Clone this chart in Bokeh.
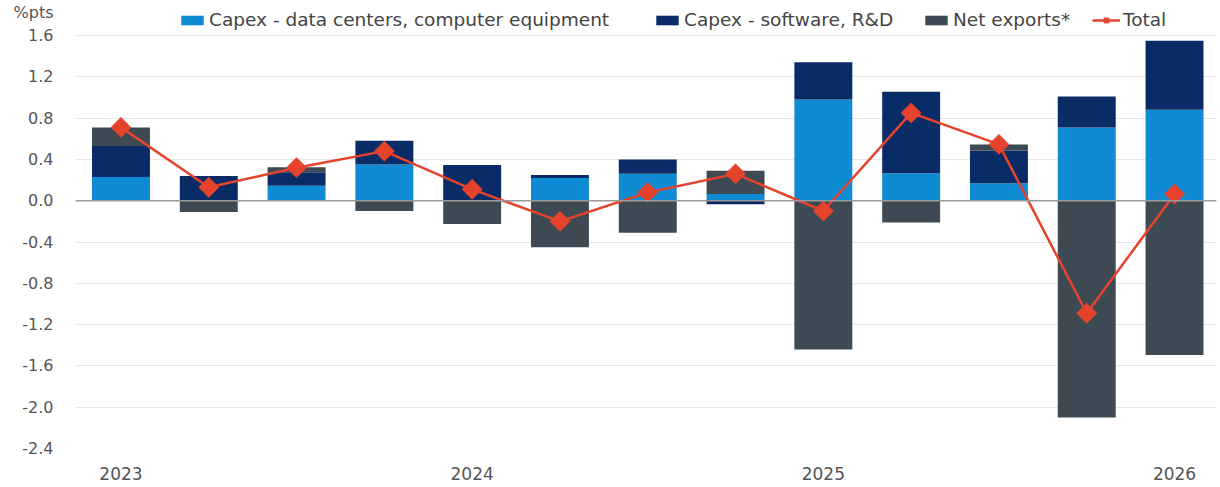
import numpy as np
from bokeh.plotting import figure
from bokeh.models import (ColumnDataSource, FixedTicker, PrintfTickFormatter, Span,
                          Legend, LegendItem)
from bokeh.embed import file_html
from bokeh.resources import INLINE

# ---------------- data ----------------
quarters = ["2023 Q1", "2023 Q2", "2023 Q3", "2023 Q4",
            "2024 Q1", "2024 Q2", "2024 Q3", "2024 Q4",
            "2025 Q1", "2025 Q2", "2025 Q3", "2025 Q4",
            "2026 Q1"]
capex_dc = [0.23, 0.00, 0.145, 0.35, 0.00, 0.22, 0.26, 0.065, 0.98, 0.265, 0.17, 0.71, 0.88]
capex_sw = [0.30, 0.24, 0.13, 0.23, 0.345, 0.03, 0.14, -0.035, 0.36, 0.79, 0.315, 0.30, 0.67]
net_exports = [0.18, -0.11, 0.05, -0.10, -0.225, -0.45, -0.31, 0.225, -1.44, -0.21, 0.06, -2.10, -1.495]
total = [0.71, 0.13, 0.32, 0.48, 0.11, -0.20, 0.08, 0.26, -0.10, 0.85, 0.545, -1.09, 0.065]

series_names = ["Capex - data centers, computer equipment", "Capex - software, R&D", "Net exports*"]
series_values = [capex_dc, capex_sw, net_exports]
series_colors = ["#0E8BD2", "#0A2C66", "#3D4A53"]

y_ticks = [-2.4, -2.0, -1.6, -1.2, -0.8, -0.4, 0.0, 0.4, 0.8, 1.2, 1.6]
unit_label = "%pts"
unit_label_pos = 1.823

FONT = "DejaVu Sans"

x = np.arange(len(quarters))

p = figure(width=1220, height=487, x_range=(-0.518, 12.478), y_range=(-2.4, 1.939),
           min_border_left=75, min_border_right=4, min_border_top=0, min_border_bottom=39,
           output_backend="svg", toolbar_location=None)
p.outline_line_color = None
p.background_fill_color = "white"

# stacked bars with separate positive / negative stacking
pos_base = np.zeros(len(quarters))
neg_base = np.zeros(len(quarters))
bar_renderers = []
for name, vals, col in zip(series_names, series_values, series_colors):
    v = np.array(vals, dtype=float)
    bottom = np.where(v >= 0, pos_base, neg_base)
    top = bottom + v
    pos_base = np.where(v >= 0, top, pos_base)
    neg_base = np.where(v < 0, top, neg_base)
    src = ColumnDataSource(dict(x=x, top=top, bottom=bottom))
    r = p.vbar(x="x", top="top", bottom="bottom", width=0.66, source=src,
               fill_color=col, line_color=None)
    bar_renderers.append(r)

zero = Span(location=0, dimension="width", line_color="#9a9a9a", line_width=1.5)
p.add_layout(zero)

tsrc = ColumnDataSource(dict(x=x, total=total))
red = "#E6432D"
lr = p.line("x", "total", source=tsrc, line_color=red, line_width=2.5)
sr = p.scatter("x", "total", source=tsrc, marker="square", size=14, angle=np.pi / 4,
               fill_color=red, line_color=red)

# axes
p.xgrid.grid_line_color = None
p.ygrid.grid_line_color = "#e8e8e8"
p.ygrid.grid_line_width = 1
p.ygrid[0].ticker = FixedTicker(ticks=y_ticks)
p.yaxis.ticker = FixedTicker(ticks=y_ticks + [unit_label_pos])
p.yaxis.formatter = PrintfTickFormatter(format="%.1f")
p.yaxis.major_label_overrides = {unit_label_pos: unit_label}
year_ticks = [i for i, q in enumerate(quarters) if q.endswith("Q1")]
p.xaxis.ticker = FixedTicker(ticks=year_ticks)
p.xaxis.major_label_overrides = {i: quarters[i][:4] for i in year_ticks}

for ax in (p.xaxis[0], p.yaxis[0]):
    ax.axis_line_color = None
    ax.major_tick_line_color = None
    ax.minor_tick_line_color = None
    ax.major_tick_in = 0
    ax.major_tick_out = 0
    ax.minor_tick_out = 0
    ax.major_label_text_font = FONT
    ax.major_label_text_color = "#555555"
p.yaxis.major_label_text_font_size = "16px"
p.xaxis.major_label_text_font_size = "17px"
p.yaxis.major_label_standoff = 22
p.xaxis.major_label_standoff = 18

# legends (one per item, positioned individually)
leg_items = [(series_names[0], [bar_renderers[0]], 103),
             (series_names[1], [bar_renderers[1]], 578),
             (series_names[2], [bar_renderers[2]], 847),
             ("Total", [lr, sr], 1017)]
for label, rends, lx in leg_items:
    lg = Legend(items=[LegendItem(label=label, renderers=rends)], location=(lx, 418),
                orientation="horizontal", glyph_width=28, glyph_height=12, label_standoff=3,
                padding=0, margin=0, border_line_color=None, background_fill_alpha=0,
                label_text_font=FONT, label_text_font_size="18.5px", label_text_color="#444444",
                label_height=14)
    p.add_layout(lg, "center")

open("out.html", "w").write(file_html(p, INLINE))
